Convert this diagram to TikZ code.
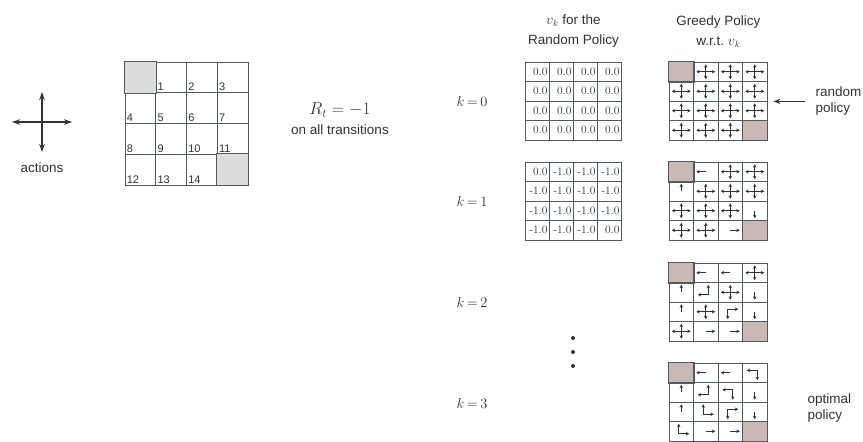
\documentclass[tikz,border=0pt]{standalone}
\usepackage{fontspec}
\setsansfont{Liberation Sans}
\usetikzlibrary{arrows.meta,positioning,calc}

\definecolor{gridline}{HTML}{505A64}
\definecolor{ink}{HTML}{333333}
\definecolor{valink}{HTML}{2A3340}
\definecolor{termgray}{HTML}{DCDCDC}
\definecolor{termbrown}{HTML}{C9B8B4}

% policy symbols, #1 = name of the cell node
\newcommand{\polT}[1]{\draw[gridline, line width=0.8pt, fill=termbrown] (#1.south west) rectangle (#1.north east);}
\newcommand{\polL}[1]{\draw[parr] (#1.center) -- ++(-9.5,0);}
\newcommand{\polR}[1]{\draw[parr] (#1.center) -- ++(9.5,0);}
\newcommand{\polU}[1]{\draw[parr] (#1.center) -- ++(0,-7.5);}
\newcommand{\polD}[1]{\draw[parr] (#1.center) -- ++(0,7.5);}
\newcommand{\polX}[1]{\polL{#1}\polR{#1}\polU{#1}\polD{#1}}
\newcommand{\polLU}[1]{\draw[pturn] ($(#1.center)+(-8,2.5)$) -- ++(10.5,0) -- ++(0,-10);}
\newcommand{\polLD}[1]{\draw[pturn] ($(#1.center)+(-8,-2.5)$) -- ++(10.5,0) -- ++(0,10);}
\newcommand{\polUR}[1]{\draw[pturn] ($(#1.center)+(-2.5,-7.5)$) -- ++(0,10) -- ++(10.5,0);}
\newcommand{\polRD}[1]{\draw[pturn] ($(#1.center)+(8,-2.5)$) -- ++(-10.5,0) -- ++(0,10);}

% one 4x4 policy grid: #1 = k, #2 = top, #3 = rows of codes
\newcommand{\drawpolicy}[3]{%
  \foreach \row [count=\rowi from 0] in {#3} {
    \foreach \code [count=\coli from 0] in \row {
      \node[pcell] (p#1-\rowi-\coli) at ({669+24.5*\coli+12.25}, {#2+19.5*\rowi+9.75}) {};
      \csname pol\code\endcsname{p#1-\rowi-\coli}
    }
  }%
}

% one 4x4 value grid: #1 = k, #2 = top, #3 = rows of values
\newcommand{\drawvalues}[3]{%
  \foreach \row [count=\rowi from 0] in {#3} {
    \foreach \val [count=\coli from 0] in \row {
      \node[vcell] (v#1-\rowi-\coli) at ({525+24*\coli+12}, {#2+19.5*\rowi+9.75}) {\val};
    }
  }%
}

\begin{document}
\begin{tikzpicture}[
  x=1pt, y=-1pt,
  font=\sffamily\fontsize{13.5}{16}\selectfont,
  text=ink,
  scell/.style={draw=gridline, line width=0.8pt, minimum width=30.75pt, minimum height=30.75pt, inner sep=0pt},
  vcell/.style={draw=gridline, line width=0.8pt, minimum width=24pt, minimum height=19.5pt,
    text width=21pt, inner sep=1.5pt, align=right, text=valink, font=\rmfamily\fontsize{11.5}{12}\selectfont},
  pcell/.style={draw=gridline, line width=0.8pt, minimum width=24.5pt, minimum height=19.5pt, inner sep=0pt},
  num/.style={anchor=south west, inner sep=2pt, font=\sffamily\fontsize{11}{12}\selectfont},
  head/.style={align=center, inner sep=0pt, font=\sffamily\fontsize{13.5}{20}\selectfont},
  side/.style={align=left, inner sep=0pt, font=\sffamily\fontsize{13.5}{16}\selectfont},
  klab/.style={font=\fontsize{13.5}{16}\selectfont},
  flow/.style={draw=ink, line width=0.8pt, -{Stealth[length=7pt, width=5pt]}},
  actarr/.style={draw=ink, line width=1.1pt, -{Stealth[length=8pt, width=5.5pt]}},
  parr/.style={draw=ink, line width=0.6pt, -{Stealth[length=3.4pt, width=3.4pt]}},
  pturn/.style={draw=ink, line width=0.6pt, {Stealth[length=3.4pt, width=3.4pt]}-{Stealth[length=3.4pt, width=3.4pt]}}
]
\useasboundingbox (0,0) rectangle (863,442);

% actions
\coordinate (act) at (42,122);
\draw[actarr] (act) -- ++(-30,0);
\draw[actarr] (act) -- ++(30,0);
\draw[actarr] (act) -- ++(0,-30);
\draw[actarr] (act) -- ++(0,30);
\node (actlbl) at (42,168) {actions};

% gridworld
\foreach \rowi in {0,...,3} {
  \foreach \coli in {0,...,3} {
    \node[scell] (s-\rowi-\coli) at ({125+30.75*\coli+15.375}, {62+30.75*\rowi+15.375}) {};
  }
}
\draw[gridline, line width=0.8pt, fill=termgray] (s-0-0.south west) rectangle (s-0-0.north east);
\draw[gridline, line width=0.8pt, fill=termgray] (s-3-3.south west) rectangle (s-3-3.north east);
\foreach \rowi in {0,...,3} {
  \foreach \coli in {0,...,3} {
    \pgfmathtruncatemacro{\idx}{4*\rowi+\coli}
    \ifnum\idx>0 \ifnum\idx<15
      \node[num] (n\idx) at (s-\rowi-\coli.south west) {\idx};
    \fi\fi
  }
}

% reward
\node (rew) at (340,110) {\fontsize{17.5}{20}\selectfont$R_t=-1$};
\node (trans) at (340,130) {on all transitions};

% value grids
\drawvalues{0}{62}{{0.0,0.0,0.0,0.0},{0.0,0.0,0.0,0.0},{0.0,0.0,0.0,0.0},{0.0,0.0,0.0,0.0}}
\drawvalues{1}{162}{{0.0,-1.0,-1.0,-1.0},{-1.0,-1.0,-1.0,-1.0},{-1.0,-1.0,-1.0,-1.0},{-1.0,-1.0,-1.0,0.0}}

% policy grids
\drawpolicy{0}{62}{{T,X,X,X},{X,X,X,X},{X,X,X,X},{X,X,X,T}}
\drawpolicy{1}{162}{{T,L,X,X},{U,X,X,X},{X,X,X,D},{X,X,R,T}}
\drawpolicy{2}{263}{{T,L,L,X},{U,LU,X,D},{U,X,RD,D},{X,R,R,T}}
\drawpolicy{3}{363}{{T,L,L,LD},{U,LU,LD,D},{U,UR,RD,D},{UR,R,R,T}}

% headers
\node[head, above=14pt of v0-0-1.north east] (vhead) {$v_k$ for the\\Random Policy};
\node[head, above=14pt of p0-0-1.north east] (phead) {Greedy Policy\\w.r.t.~$v_k$};

% iteration labels
\node[klab] (k0) at (472,101) {$k\,{=}\,0$};
\node[klab] (k1) at (472,201) {$k\,{=}\,1$};
\node[klab] (k2) at (472,302) {$k\,{=}\,2$};
\node[klab] (k3) at (472,403) {$k\,{=}\,3$};

% ellipsis
\foreach \d in {0,1,2}
  \fill[ink] (573,{338+14*\d}) circle (2);

% side notes
\node[side, right=48pt of p0-1-3.south east] (rplbl) {random\\policy};
\draw[flow, shorten <=10pt, shorten >=6pt] (rplbl.west) -- (rplbl.west -| p0-1-3.east);
\node[side, right=40pt of p3-1-3.south east, yshift=-6pt] (optlbl) {optimal\\policy};

\end{tikzpicture}
\end{document}
